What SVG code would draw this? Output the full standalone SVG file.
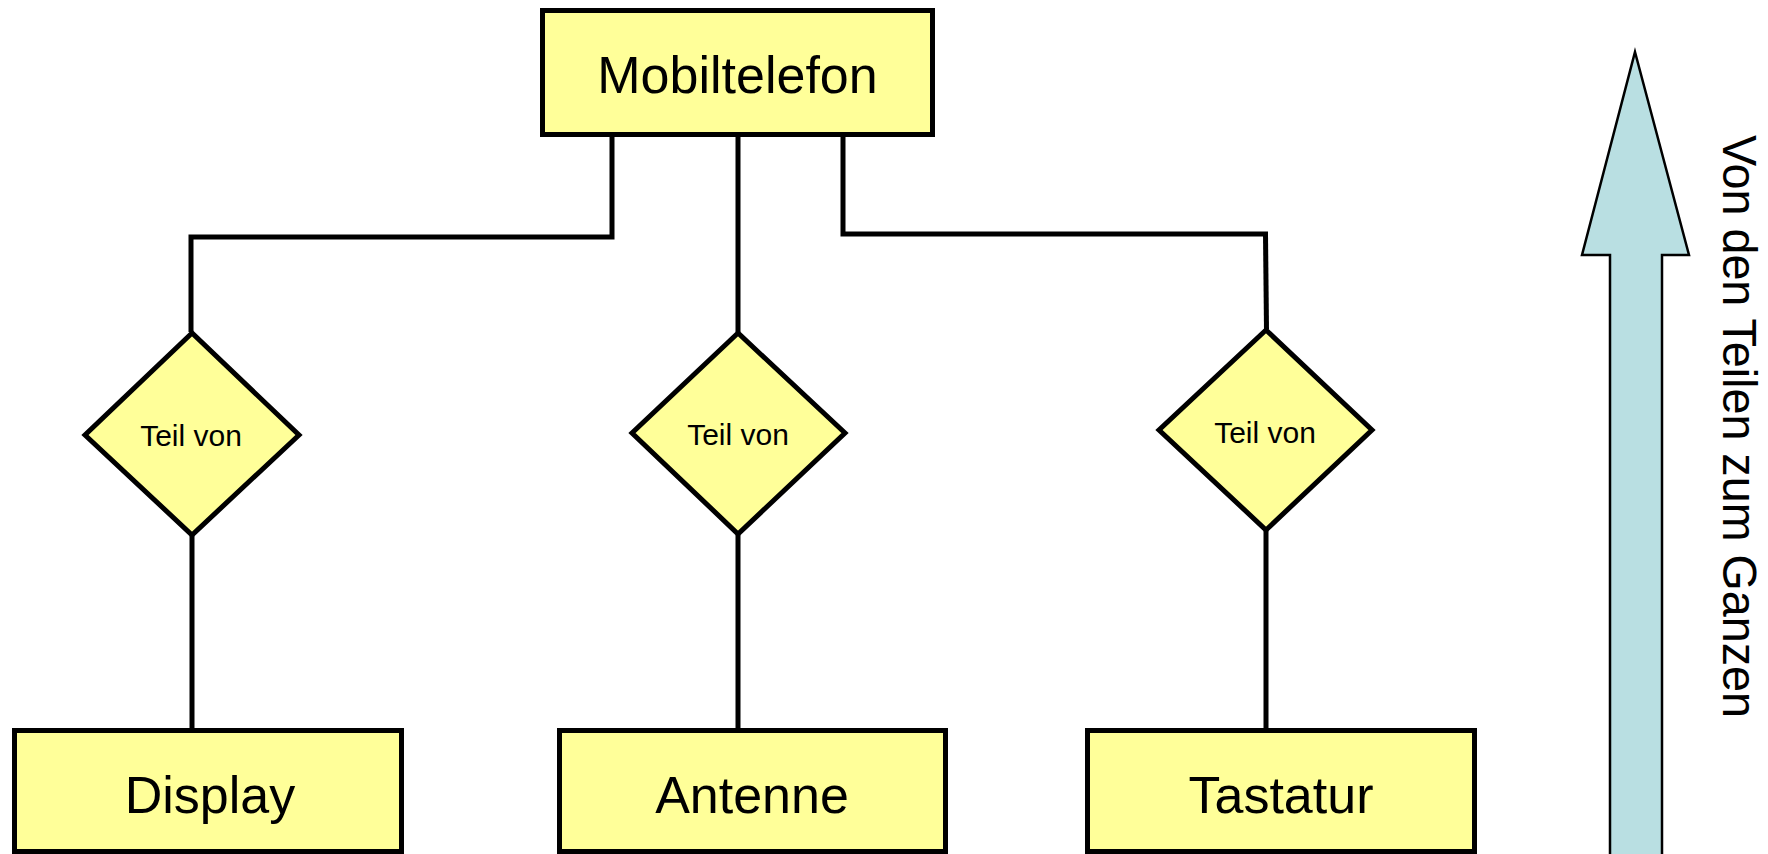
<svg xmlns="http://www.w3.org/2000/svg" width="1768" height="854" viewBox="0 0 1768 854">
<style>
.box{fill:#FFFF99;stroke:#000;stroke-width:5}
.dia{fill:#FFFF99;stroke:#000;stroke-width:5;stroke-linejoin:miter}
.lbl{font-family:"Liberation Sans",Arial,sans-serif;font-size:52px;fill:#000;text-anchor:middle}
.rel{font-family:"Liberation Sans",Arial,sans-serif;font-size:30px;fill:#000;text-anchor:middle}
.con{fill:none;stroke:#000;stroke-width:5}
</style>
<rect width="1768" height="854" fill="#fff"/>
<g id="connectors">
<path class="con" d="M612,137 V237 H191 V332"/>
<path class="con" d="M738,137 V332"/>
<path class="con" d="M843,137 V234 H1268"/>
<path class="con" d="M1265.5,234 L1266.5,329"/>
<path class="con" d="M192,536 V728"/>
<path class="con" d="M738,535 V728"/>
<path class="con" d="M1266,531 V728"/>
</g>
<g id="mobiltelefon">
<rect class="box" x="542.5" y="10.5" width="390" height="124"/>
<text class="lbl" x="737.5" y="93">Mobiltelefon</text>
</g>
<g id="teilvon1">
<polygon class="dia" points="192,333 85,435 192,535 299,435"/>
<text class="rel" x="191" y="446">Teil von</text>
</g>
<g id="teilvon2">
<polygon class="dia" points="738,333 632,433 738,534 845,433"/>
<text class="rel" x="738" y="445">Teil von</text>
</g>
<g id="teilvon3">
<polygon class="dia" points="1266,330 1159,430 1266,530 1372,430"/>
<text class="rel" x="1265" y="443">Teil von</text>
</g>
<g id="display">
<rect class="box" x="14.5" y="730.5" width="387" height="121"/>
<text class="lbl" x="210" y="813">Display</text>
</g>
<g id="antenne">
<rect class="box" x="559.5" y="730.5" width="386" height="121"/>
<text class="lbl" x="752" y="813">Antenne</text>
</g>
<g id="tastatur">
<rect class="box" x="1087.5" y="730.5" width="387" height="121"/>
<text class="lbl" x="1281" y="813">Tastatur</text>
</g>
<g id="direction-arrow">
<polygon points="1635,52 1689,255 1662,255 1662,860 1610,860 1610,255 1582,255" fill="#B9DFE2" stroke="#000" stroke-width="2.5" stroke-linejoin="miter"/>
<text transform="translate(1723,135) rotate(90)" x="0" y="0" font-family="'Liberation Sans',Arial,sans-serif" font-size="49" textLength="583" lengthAdjust="spacingAndGlyphs" fill="#000">Von den Teilen zum Ganzen</text>
</g>
</svg>
